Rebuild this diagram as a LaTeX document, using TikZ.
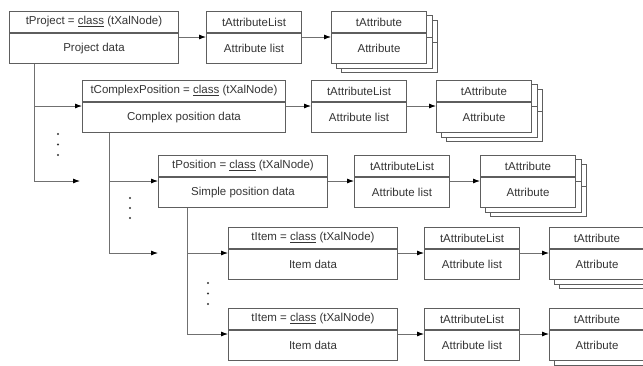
\documentclass[tikz,border=0pt]{standalone}
\usepackage{fontspec}
\setmainfont{Liberation Sans}
\usepackage{xcolor}
\usepackage{tikz}
\usetikzlibrary{positioning, arrows.meta, backgrounds}
\definecolor{boxline}{HTML}{5E5E5E}
\definecolor{wire}{HTML}{707070}
\definecolor{ink}{HTML}{353535}

\begin{document}
\begin{tikzpicture}[x=1pt, y=1pt,
        box/.style={draw=boxline, line width=1pt, fill=white},
        hdr/.style={box, minimum height=21pt, inner sep=0pt, text=ink,
                    font=\fontsize{11.5}{13}\selectfont},
        bdy/.style={box, minimum height=29.5pt, inner sep=0pt, text=ink,
                    font=\fontsize{11.5}{13}\selectfont},
        arr/.style={draw=wire, line width=0.8pt, -{Latex[length=7pt, width=5pt, color=black]}}]
        \useasboundingbox (0,0) rectangle (643,-365);

        % Row 1: project
        \node[hdr, minimum width=169pt, anchor=north west] (prj) at (9,-11) {tProject = \underline{class} (tXalNode)};
        \node[bdy, minimum width=169pt, below=0pt of prj] (prj-d) {Project data};
        \node[hdr, minimum width=95pt, right=27pt of prj] (al1) {tAttributeList};
        \node[bdy, minimum width=95pt, below=0pt of al1] (al1-d) {Attribute list};
        \node[hdr, minimum width=95pt, right=29pt of al1] (att1) {tAttribute};
        \node[bdy, minimum width=95pt, below=0pt of att1] (att1-d) {Attribute};

        % Row 2: complex position
        \node[hdr, minimum width=203pt, anchor=north west] (cpx) at (82,-80) {tComplexPosition = \underline{class} (tXalNode)};
        \node[bdy, minimum width=203pt, below=0pt of cpx] (cpx-d) {Complex position data};
        \node[hdr, minimum width=95pt, right=25pt of cpx] (al2) {tAttributeList};
        \node[bdy, minimum width=95pt, below=0pt of al2] (al2-d) {Attribute list};
        \node[hdr, minimum width=95pt, right=29pt of al2] (att2) {tAttribute};
        \node[bdy, minimum width=95pt, below=0pt of att2] (att2-d) {Attribute};

        % Row 3: simple position
        \node[hdr, minimum width=169pt, anchor=north west] (pos) at (158,-155) {tPosition = \underline{class} (tXalNode)};
        \node[bdy, minimum width=169pt, below=0pt of pos] (pos-d) {Simple position data};
        \node[hdr, minimum width=95pt, right=26pt of pos] (al3) {tAttributeList};
        \node[bdy, minimum width=95pt, below=0pt of al3] (al3-d) {Attribute list};
        \node[hdr, minimum width=95pt, right=30pt of al3] (att3) {tAttribute};
        \node[bdy, minimum width=95pt, below=0pt of att3] (att3-d) {Attribute};

        % Rows 4 and 5: items
        \node[hdr, minimum width=169pt, anchor=north west] (itm1) at (228,-227) {tItem = \underline{class} (tXalNode)};
        \node[bdy, minimum width=169pt, below=0pt of itm1] (itm1-d) {Item data};
        \node[hdr, minimum width=95pt, right=26pt of itm1] (al4) {tAttributeList};
        \node[bdy, minimum width=95pt, below=0pt of al4] (al4-d) {Attribute list};
        \node[hdr, minimum width=95pt, right=29pt of al4] (att4) {tAttribute};
        \node[bdy, minimum width=95pt, below=0pt of att4] (att4-d) {Attribute};

        \node[hdr, minimum width=169pt, anchor=north west] (itm2) at (228,-308) {tItem = \underline{class} (tXalNode)};
        \node[bdy, minimum width=169pt, below=0pt of itm2] (itm2-d) {Item data};
        \node[hdr, minimum width=95pt, right=26pt of itm2] (al5) {tAttributeList};
        \node[bdy, minimum width=95pt, below=0pt of al5] (al5-d) {Attribute list};
        \node[hdr, minimum width=95pt, right=29pt of al5] (att5) {tAttribute};
        \node[bdy, minimum width=95pt, below=0pt of att5] (att5-d) {Attribute};

        % Stacked copies behind each attribute
        \begin{scope}[on background layer]
            \foreach \n in {att1,att2,att3,att4,att5} {
                \foreach \s in {(10pt,-9pt),(5pt,-4.5pt)} {
                    \draw[box] ([shift={\s}]\n.north west) rectangle ([shift={\s}]\n.south east);
                    \draw[box] ([shift={\s}]\n-d.north west) rectangle ([shift={\s}]\n-d.south east);
                }
            }
        \end{scope}

        % Row arrows
        \foreach \a/\b/\c in {prj/al1/att1, cpx/al2/att2, pos/al3/att3, itm1/al4/att4, itm2/al5/att5} {
            \draw[arr] ([yshift=-4pt]\a-d.north east) -- ([yshift=-4pt]\b-d.north west);
            \draw[arr] ([yshift=-4pt]\b-d.north east) -- ([yshift=-4pt]\c-d.north west);
        }

        % Tree lines
        \path ([yshift=-4pt]cpx-d.north west) coordinate (cpx-in)
              ([yshift=-4pt]pos-d.north west) coordinate (pos-in)
              ([yshift=-4pt]itm1-d.north west) coordinate (itm1-in)
              ([yshift=-4pt]itm2-d.north west) coordinate (itm2-in);
        \coordinate (prj-stem) at ([xshift=25pt]prj-d.south west);
        \coordinate (cpx-stem) at ([xshift=27pt]cpx-d.south west);
        \coordinate (pos-stem) at ([xshift=29pt]pos-d.south west);
        \coordinate (more1) at ([xshift=-2pt]cpx.west |- pos-in);
        \coordinate (more2) at (pos.west |- itm1-in);

        \draw[arr] (prj-stem) |- (cpx-in);
        \draw[arr] (prj-stem) |- (more1);
        \draw[arr] (cpx-stem) |- (pos-in);
        \draw[arr] (cpx-stem) |- (more2);
        \draw[arr] (pos-stem) |- (itm1-in);
        \draw[arr] (pos-stem) |- (itm2-in);

        % Dots
        \foreach \p in {(58,-134),(58,-144.5),(58,-155),
                        (130,-198),(130,-208),(130,-218),
                        (208,-283),(208,-293.5),(208,-304)}
            \fill[ink] \p circle (1.2pt);
    \end{tikzpicture}
\end{document}
